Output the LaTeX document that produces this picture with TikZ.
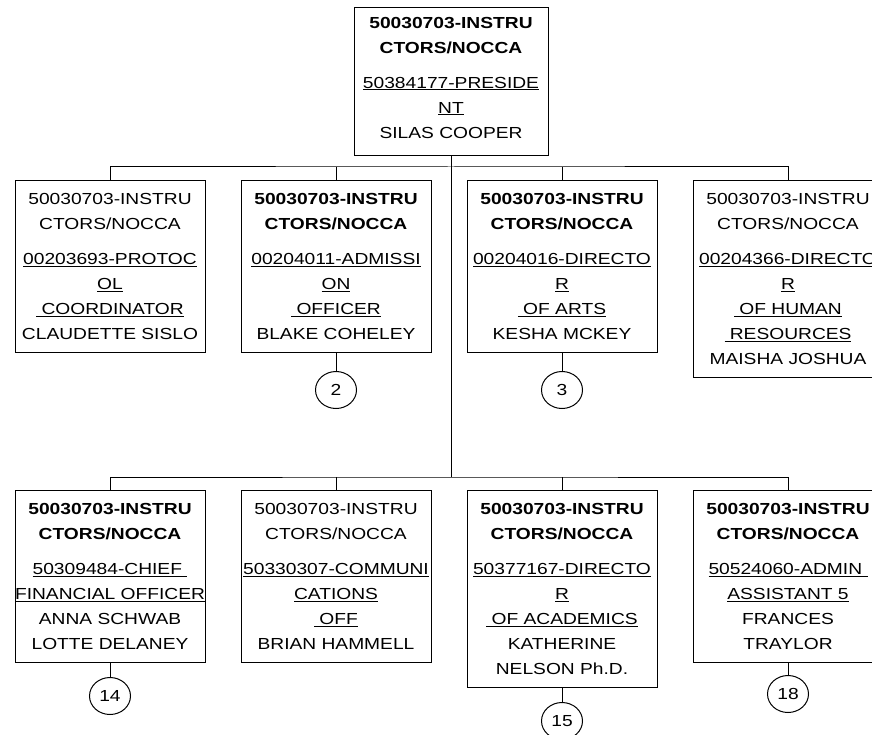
\documentclass[tikz,border=0pt]{standalone}
\usepackage{fontspec}
\setmainfont{Liberation Sans}[FakeStretch=1.2]
\usetikzlibrary{positioning, shapes.geometric}

\newcommand{\hdbold}{\textbf{50030703-INSTRU}\\\textbf{CTORS/NOCCA}\\[10pt]}
\newcommand{\hdplain}{50030703-INSTRU\\CTORS/NOCCA\\[10pt]}

\tikzset{
  post/.style={draw, rectangle, anchor=north, text width=190pt, inner xsep=0pt,
    minimum height=172pt, align=center,
    font=\fontsize{16}{25}\selectfont},
  tall/.style={minimum height=197pt},
  link/.style={draw, ellipse, minimum width=41pt, minimum height=37pt, inner sep=0pt,
    font=\fontsize{16}{20}\selectfont},
}

\begin{document}
\begin{tikzpicture}[x=1pt, y=1pt, line width=1pt]
  \clip (0,0) rectangle (872,-735);
  % head of the unit
  \node[post, text width=194pt, minimum height=148pt] (pres) at (451,-7) {\hdbold \underline{50384177-PRESIDE}\\\underline{NT}\\SILAS COOPER\rule[-8pt]{0pt}{8pt}};
  % first row
  \node[post] (protoc) at (110,-180) {\hdplain \underline{00203693-PROTOC}\\\underline{OL}\\\underline{\ COORDINATOR}\\CLAUDETTE SISLO};
  \node[post] (admiss) at (336,-180) {\hdbold \underline{00204011-ADMISSI}\\\underline{ON}\\\underline{\ OFFICER}\\BLAKE COHELEY};
  \node[post] (arts) at (562,-180) {\hdbold \underline{00204016-DIRECTO}\\\underline{R}\\\underline{\ OF ARTS}\\KESHA MCKEY};
  \node[post, tall] (hr) at (788,-180) {\hdplain \underline{00204366-DIRECTO}\\\underline{R}\\\underline{\ OF HUMAN}\\\underline{\ RESOURCES}\\MAISHA JOSHUA};
  % second row
  \node[post] (cfo) at (110,-490) {\hdbold \underline{50309484-CHIEF\ }\\\underline{FINANCIAL OFFICER}\\ANNA SCHWAB\\LOTTE DELANEY};
  \node[post] (comm) at (336,-490) {\hdplain \underline{50330307-COMMUNI}\\\underline{CATIONS}\\\underline{\ OFF}\\BRIAN HAMMELL};
  \node[post, tall] (acad) at (562,-490) {\hdbold \underline{50377167-DIRECTO}\\\underline{R}\\\underline{\ OF ACADEMICS}\\KATHERINE\\NELSON Ph.D.};
  \node[post] (admin) at (788,-490) {\hdbold \underline{50524060-ADMIN\ }\\\underline{ASSISTANT 5}\\FRANCES\\TRAYLOR};
  % page links
  \node[link, below=18pt of admiss] (c2) {2};
  \node[link, below=18pt of arts] (c3) {3};
  \node[link, below=14pt of cfo] (c14) {14};
  \node[link, below=14pt of acad] (c15) {15};
  \node[link, below=12pt of admin] (c18) {18};
  % lines
  \coordinate (hub1) at (451,-167);
  \coordinate (hub2) at (451,-477);
  \draw (pres.south) -- (hub2);
  \draw (protoc.north) |- (hub1) -| (hr.north);
  \draw (admiss.north) -- (admiss.north |- hub1);
  \draw (arts.north) -- (arts.north |- hub1);
  \draw (cfo.north) |- (hub2) -| (admin.north);
  \draw (comm.north) -- (comm.north |- hub2);
  \draw (acad.north) -- (acad.north |- hub2);
  \draw (admiss) -- (c2);
  \draw (arts) -- (c3);
  \draw (cfo) -- (c14);
  \draw (acad) -- (c15);
  \draw (admin) -- (c18);
\end{tikzpicture}
\end{document}
